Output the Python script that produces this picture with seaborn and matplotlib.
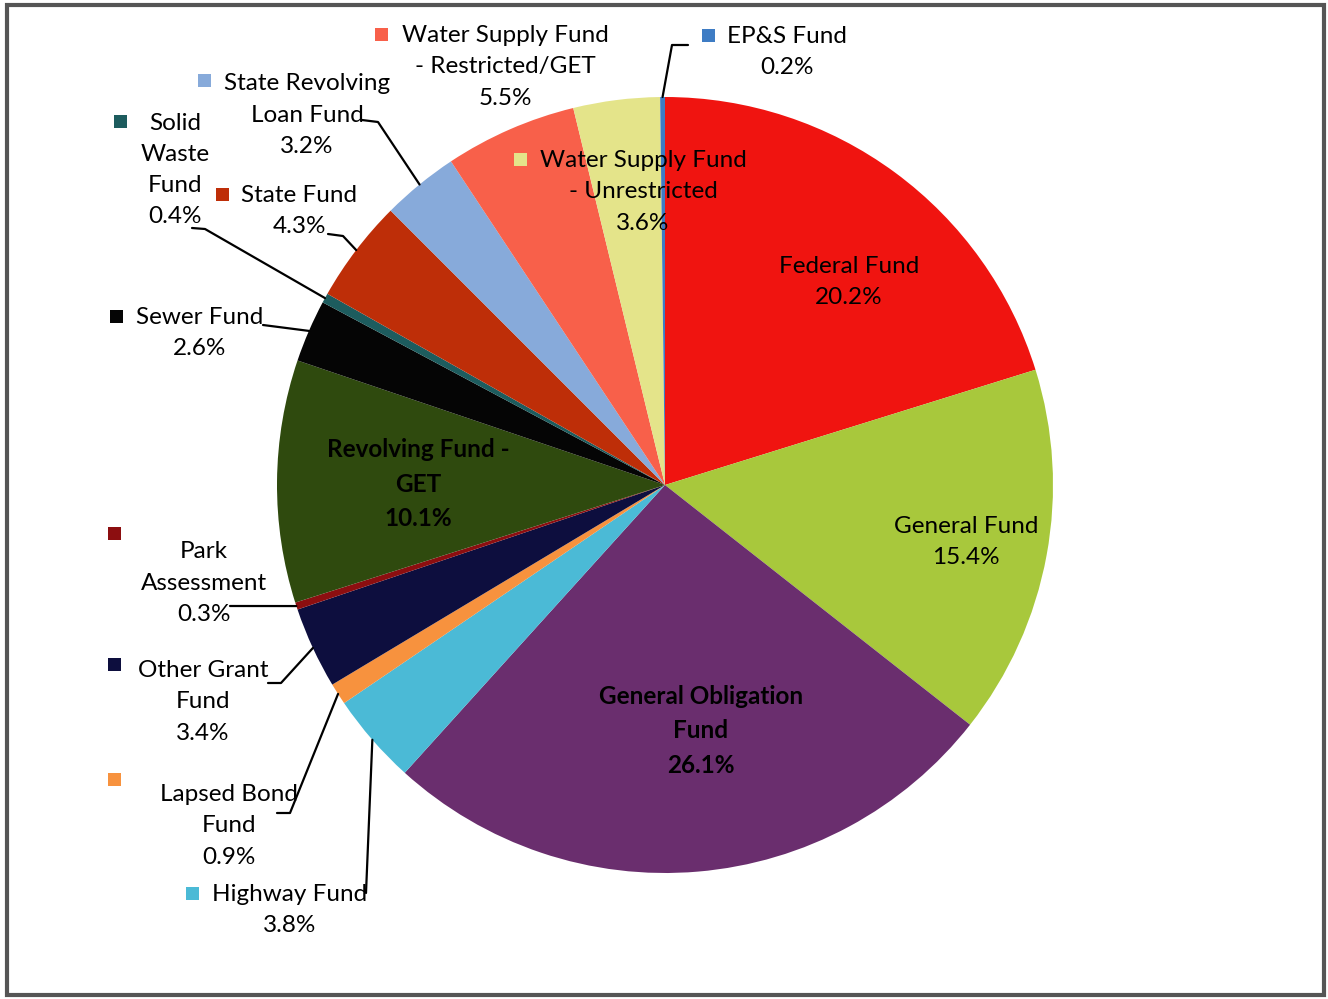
import numpy as np
import matplotlib
matplotlib.use("Agg")
import matplotlib.pyplot as plt
import seaborn as sns
from matplotlib.patches import Rectangle

W, H = 1328, 999

# Fund names (clockwise from 12 o'clock) and their shares in percent
FUNDS = [
    "Federal Fund",
    "General Fund",
    "General Obligation Fund",
    "Highway Fund",
    "Lapsed Bond Fund",
    "Other Grant Fund",
    "Park Assessment",
    "Revolving Fund - GET",
    "Sewer Fund",
    "Solid Waste Fund",
    "State Fund",
    "State Revolving Loan Fund",
    "Water Supply Fund - Restricted/GET",
    "Water Supply Fund - Unrestricted",
    "EP&S Fund",
]
SHARES = [20.2, 15.4, 26.1, 3.8, 0.9, 3.4, 0.3, 10.1, 2.6, 0.4, 4.3, 3.2, 5.5, 3.6, 0.2]
COLORS = [
    "#F01410", "#A8C83C", "#6A2E6E", "#4BBAD6", "#F7923E",
    "#0D0E3E", "#8C0E10", "#2F4A0E", "#050505", "#1D5C5E",
    "#BE2E08", "#87AADA", "#F8604A", "#E4E48A", "#3E7CC4",
]

# Label text as wrapped in the chart
LABEL_TEXT = {
    "Federal Fund": "Federal Fund\n20.2%",
    "General Fund": "General Fund\n15.4%",
    "General Obligation Fund": "General Obligation\nFund\n26.1%",
    "Highway Fund": "Highway Fund\n3.8%",
    "Lapsed Bond Fund": "Lapsed Bond\nFund\n0.9%",
    "Other Grant Fund": "Other Grant\nFund\n3.4%",
    "Park Assessment": "Park\nAssessment\n0.3%",
    "Revolving Fund - GET": "Revolving Fund -\nGET\n10.1%",
    "Sewer Fund": "Sewer Fund\n2.6%",
    "Solid Waste Fund": "Solid\nWaste\nFund\n0.4%",
    "State Fund": "State Fund\n4.3%",
    "State Revolving Loan Fund": "State Revolving\nLoan Fund\n3.2%",
    "Water Supply Fund - Restricted/GET": "Water Supply Fund\n- Restricted/GET\n5.5%",
    "Water Supply Fund - Unrestricted": "Water Supply Fund\n- Unrestricted\n3.6%",
    "EP&S Fund": "EP&S Fund\n0.2%",
}

# Layout (image pixel coords, y down): text centre, key square, leader elbow
LAYOUT = {
    "Federal Fund": dict(text=(849, 282), key=None, elbow=None, bold=False),
    "General Fund": dict(text=(966, 542), key=None, elbow=None, bold=False),
    "General Obligation Fund": dict(text=(701, 731), key=None, elbow=None, bold=True),
    "Revolving Fund - GET": dict(text=(418, 484), key=None, elbow=None, bold=True),
    "Highway Fund": dict(text=(290, 910), key=(192, 893), elbow=[(366, 893)], bold=False),
    "Lapsed Bond Fund": dict(text=(229, 826), key=(114, 779), elbow=[(277, 813), (290, 813)], bold=False),
    "Other Grant Fund": dict(text=(203, 702), key=(114, 664), elbow=[(268, 683), (281, 683)], bold=False),
    "Park Assessment": dict(text=(204, 583), key=(114, 533), elbow=[(230, 606)], bold=False),
    "Sewer Fund": dict(text=(200, 333), key=(116, 316), elbow=[(263, 325)], bold=False),
    "Solid Waste Fund": dict(text=(175, 170), key=(120, 121), elbow=[(192, 228), (205, 229)], bold=False),
    "State Fund": dict(text=(299, 211), key=(222, 194), elbow=[(328, 234), (343, 236)], bold=False),
    "State Revolving Loan Fund": dict(text=(307, 115), key=(204, 80), elbow=[(362, 120), (378, 122)], bold=False),
    "Water Supply Fund - Restricted/GET": dict(text=(505, 67), key=(381, 34), elbow=None, bold=False),
    "Water Supply Fund - Unrestricted": dict(text=(643, 192), key=(520, 159), elbow=None, bold=False),
    "EP&S Fund": dict(text=(787, 52), key=(708, 35), elbow=[(688, 45), (672, 45)], bold=False),
}

CENTER = (665, 485)
RADIUS = 388


def py(y):
    return H - y


sns.set_theme(style="white")
plt.rcParams["font.family"] = ["Lato", "DejaVu Sans"]

fig = plt.figure(figsize=(W / 100, H / 100), dpi=100)
ax = fig.add_axes([0, 0, 1, 1])

wedges, _ = ax.pie(
    SHARES,
    colors=COLORS,
    startangle=90,
    counterclock=False,
    center=(CENTER[0], py(CENTER[1])),
    radius=RADIUS,
    wedgeprops=dict(linewidth=0),
)
ax.set_xlim(0, W)
ax.set_ylim(0, H)
ax.set_aspect("equal")
ax.axis("off")

for fund, wedge in zip(FUNDS, wedges):
    lay = LAYOUT[fund]
    tx, ty = lay["text"]
    ax.text(tx, py(ty), LABEL_TEXT[fund], ha="center", va="center",
            fontsize=17.5, linespacing=1.6, color="black",
            fontweight="bold" if lay["bold"] else "normal", zorder=5)
    if lay["key"] is not None:
        kx, ky = lay["key"]
        ax.add_patch(Rectangle((kx - 6.5, py(ky) - 6.5), 13, 13,
                               facecolor=wedge.get_facecolor(), edgecolor="none", zorder=5))
    if lay["elbow"] is not None:
        mid = np.deg2rad((wedge.theta1 + wedge.theta2) / 2)
        ex = wedge.center[0] + RADIUS * np.cos(mid)
        ey = wedge.center[1] + RADIUS * np.sin(mid)
        xs = [p[0] for p in lay["elbow"]] + [ex]
        ys = [py(p[1]) for p in lay["elbow"]] + [ey]
        ax.plot(xs, ys, color="black", linewidth=1.6, zorder=4)

# outer frame
fig.patches.append(Rectangle((7 / W, 4 / H), 1317 / W, 990 / H, transform=fig.transFigure,
                             fill=False, edgecolor="#555555", linewidth=3))

fig.savefig("out.png", dpi=100)
